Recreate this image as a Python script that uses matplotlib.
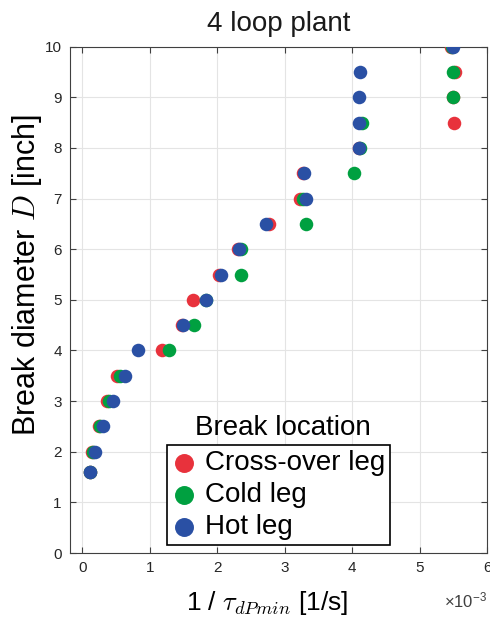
import matplotlib
matplotlib.use("Agg")
import matplotlib.pyplot as plt
import numpy as np

plt.rcParams["font.family"] = ["Liberation Sans", "DejaVu Sans"]
plt.rcParams["mathtext.fontset"] = "cm"

# break diameter [inch]
diam = [10, 9.5, 9, 8.5, 8, 7.5, 7, 6.5, 6, 5.5, 5, 4.5, 4, 3.5, 3, 2.5, 2, 1.6]
# 1/tau_dPmin in units of 1e-3 1/s
cross_over = [5.47, 5.52, 5.49, 5.51, 4.11, 3.28, 3.23, 2.77, 2.31, 2.03, 1.65, 1.48, 1.18, 0.52, 0.37, 0.25, 0.15, 0.12]
cold = [5.48, 5.49, 5.49, 4.14, 4.12, 4.03, 3.28, 3.31, 2.35, 2.35, 1.84, 1.66, 1.28, 0.56, 0.40, 0.27, 0.16, 0.12]
hot = [5.49, 4.12, 4.11, 4.11, 4.10, 3.29, 3.31, 2.72, 2.32, 2.06, 1.83, 1.49, 0.83, 0.64, 0.45, 0.31, 0.19, 0.12]

fig = plt.figure(figsize=(4.9, 6.22), dpi=100)
ax = fig.add_axes([0.1429, 0.1109, 0.851, 0.814])

ax.grid(True, color="#e4e4e4", linewidth=0.8)
ax.set_axisbelow(True)

s = 95
p1 = ax.scatter(cross_over, diam, s=s, c="#e8323c", linewidths=0, label="Cross-over leg", zorder=3)
p2 = ax.scatter(cold, diam, s=s, c="#00a040", linewidths=0, label="Cold leg", zorder=4)
p3 = ax.scatter(hot, diam, s=s, c="#2a50a4", linewidths=0, label="Hot leg", zorder=5)

ax.set_xlim(-0.18, 6)
ax.set_ylim(0, 10)
ax.set_xticks(np.arange(0, 7, 1))
ax.set_yticks(np.arange(0, 11, 1))
ax.tick_params(direction="in", top=True, right=True, labelsize=11, length=4,
               colors="#404040", labelcolor="#262626", pad=6)
for sp in ax.spines.values():
    sp.set_color("#404040")

ax.set_title("4 loop plant", fontsize=20, pad=11, color="#1a1a1a")
ax.set_ylabel(r"Break diameter $D$ [inch]", fontsize=22)
ax.yaxis.set_label_coords(-0.062, 0.549)
ax.set_xlabel(r"1 / $\tau_{dPmin}$ [1/s]", fontsize=19)
ax.xaxis.set_label_coords(0.472, -0.071)
fig.text(0.994, 0.035, r"$\mathregular{\times10^{-3}}$", ha="right", va="center",
         fontsize=12, color="#404040")

leg = ax.legend(handles=[p1, p2, p3], loc="lower left", bbox_to_anchor=(0.232, 0.015),
                fontsize=20, frameon=True, fancybox=False, framealpha=1,
                edgecolor="black", handletextpad=0.29, borderpad=0.18,
                labelspacing=0.22, markerscale=1.4, handlelength=0.9,
                borderaxespad=0)
leg.get_frame().set_linewidth(1.2)
ax.text(0.511, 0.246, "Break location", transform=ax.transAxes, ha="center",
        va="center", fontsize=20)

fig.savefig("out.png", dpi=100)
